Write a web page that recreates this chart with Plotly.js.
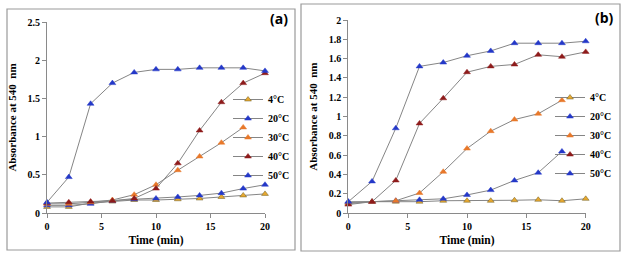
<!DOCTYPE html>
<html>
<head>
<meta charset="utf-8">
<script src="https://cdn.plot.ly/plotly-3.0.1.min.js"></script>
<style>html,body{margin:0;padding:0;background:#fff}#chart{width:624px;height:258px}</style>
</head>
<body>
<div id="chart"></div>
<script>
// ---- data ----
const time = [0, 2, 4, 6, 8, 10, 12, 14, 16, 18, 20];
const seriesNames = ["4°C", "20°C", "30°C", "40°C", "50°C"];

// panel (a)
const a4  = [0.08, 0.08, 0.13, 0.15, 0.17, 0.17, 0.18, 0.19, 0.21, 0.23, 0.25];
const a20 = [0.10, 0.10, 0.12, 0.16, 0.18, 0.19, 0.21, 0.23, 0.26, 0.32, 0.37];
const a30 = [0.12, 0.12, 0.14, 0.17, 0.24, 0.37, 0.56, 0.74, 0.92, 1.12];
const a40 = [0.13, 0.14, 0.15, 0.16, 0.19, 0.32, 0.65, 1.08, 1.45, 1.70, 1.83];
const a50 = [0.14, 0.47, 1.43, 1.70, 1.84, 1.88, 1.88, 1.90, 1.90, 1.90, 1.86];

// panel (b)
const b4  = [0.10, 0.12, 0.12, 0.12, 0.13, 0.13, 0.13, 0.135, 0.14, 0.13, 0.15];
const b20 = [0.12, 0.12, 0.13, 0.14, 0.15, 0.19, 0.24, 0.34, 0.42, 0.64];
const b30 = [0.11, 0.12, 0.13, 0.21, 0.43, 0.67, 0.85, 0.97, 1.03, 1.17];
const b40 = [0.09, 0.12, 0.34, 0.93, 1.19, 1.46, 1.52, 1.54, 1.64, 1.62, 1.67];
const b50 = [0.12, 0.33, 0.88, 1.52, 1.56, 1.63, 1.68, 1.76, 1.76, 1.76, 1.78];

const panelLabels = ["(a)", "(b)"];
const yTitle = "Absorbance at 540  nm";
const xTitle = "Time (min)";

// ---- styles ----
const markerColors = ["#E8A930", "#2438C8", "#E8782A", "#8E1B1B", "#2438C8"];
const lineColor = "#858585";
const W = 624, H = 258;
const px = v => v / W, py = v => (H - v) / H;

function makeTraces(vals, xa, ya, leg) {
  return vals.map((v, i) => ({
    type: "scatter", mode: "lines+markers",
    x: time.slice(0, v.length), y: v,
    name: seriesNames[i],
    xaxis: xa, yaxis: ya, legend: leg,
    line: {color: lineColor, width: 1},
    marker: {symbol: "triangle-up", size: 6, color: markerColors[i],
             line: {color: i === 0 ? "#6b5a20" : markerColors[i], width: 0.5}},
    cliponaxis: false
  }));
}

const traces = [
  ...makeTraces([a4, a20, a30, a40, a50], "x", "y", "legend"),
  ...makeTraces([b4, b20, b30, b40, b50], "x2", "y2", "legend2")
];

const serif = "Liberation Serif";
const tickFont = {family: serif, size: 10, color: "#000", weight: "bold"};
const axisCommon = {
  showgrid: false, zeroline: false, showline: true,
  linecolor: "#8a8a8a", linewidth: 1,
  ticks: "outside", ticklen: 4, tickcolor: "#8a8a8a",
  tickfont: tickFont, fixedrange: true
};

const legendCommon = {
  font: {family: serif, size: 10, color: "#000", weight: "bold"},
  bgcolor: "rgba(0,0,0,0)", borderwidth: 0,
  xanchor: "left", yanchor: "top", itemwidth: 30, tracegroupgap: 0
};

const layout = {
  width: W, height: H,
  margin: {l: 0, r: 0, t: 0, b: 0},
  paper_bgcolor: "#fff", plot_bgcolor: "rgba(0,0,0,0)",
  showlegend: true,
  xaxis: Object.assign({}, axisCommon, {domain: [px(47), px(265)], range: [0, 20], dtick: 5, anchor: "y",
    title: {text: xTitle, font: {family: serif, size: 11.5, color: "#000", weight: "bold"}, standoff: 4}}),
  yaxis: Object.assign({}, axisCommon, {domain: [py(213), py(22)], range: [0, 2.5], dtick: 0.5, anchor: "x",
    title: {text: yTitle, font: {family: serif, size: 11, color: "#000", weight: "bold"}, standoff: 8}}),
  xaxis2: Object.assign({}, axisCommon, {domain: [px(348.3), px(585.7)], range: [0, 20], dtick: 5, anchor: "y2",
    title: {text: xTitle, font: {family: serif, size: 11.5, color: "#000", weight: "bold"}, standoff: 4}}),
  yaxis2: Object.assign({}, axisCommon, {domain: [py(213.3), py(20)], range: [0, 2], dtick: 0.2, anchor: "x2",
    title: {text: yTitle, font: {family: serif, size: 11, color: "#000", weight: "bold"}, standoff: 8}}),
  legend: Object.assign({}, legendCommon, {x: px(228), y: py(85)}),
  legend2: Object.assign({}, legendCommon, {x: px(550), y: py(83)}),
  shapes: [
    {type: "rect", xref: "paper", yref: "paper", x0: px(7), x1: px(295), y0: py(250), y1: py(9),
     line: {color: "#9a9a9a", width: 1.2}},
    {type: "rect", xref: "paper", yref: "paper", x0: px(301), x1: px(620), y0: py(251), y1: py(4),
     line: {color: "#9a9a9a", width: 1.2}}
  ],
  annotations: [
    {text: panelLabels[0], xref: "paper", yref: "paper", x: px(290), y: py(18), xanchor: "right", yanchor: "middle",
     showarrow: false, font: {family: "Open Sans", size: 14, color: "#000", weight: "bold"}},
    {text: panelLabels[1], xref: "paper", yref: "paper", x: px(616), y: py(17), xanchor: "right", yanchor: "middle",
     showarrow: false, font: {family: "Open Sans", size: 14, color: "#000", weight: "bold"}}
  ]
};

Plotly.newPlot("chart", traces, layout, {staticPlot: true, displayModeBar: false});
</script>
</body>
</html>
